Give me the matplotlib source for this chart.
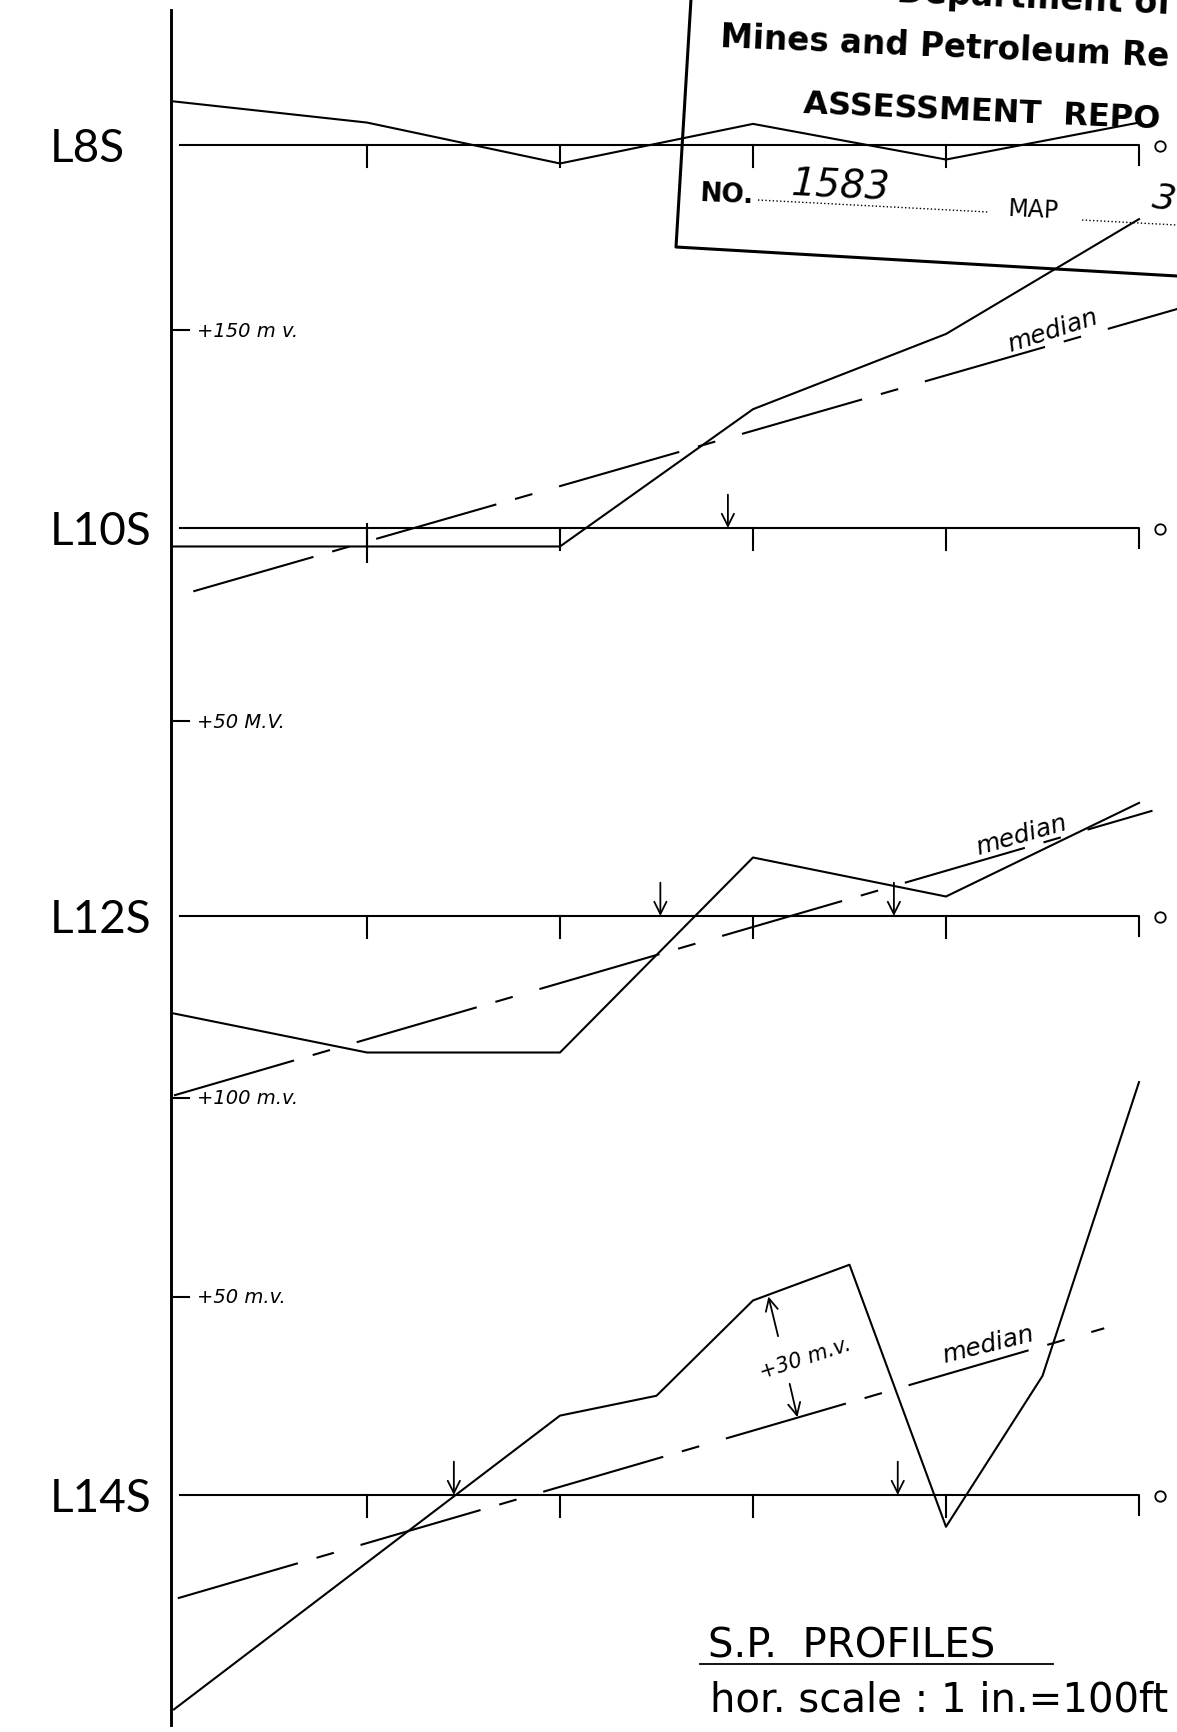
import matplotlib.pyplot as plt
from matplotlib.transforms import Affine2D

plt.rcParams['lines.scale_dashes'] = False
plt.rcParams['font.family'] = ['DejaVu Sans']

# ---- data (stations in 100 ft, S.P. in mV relative to line zero) ----
profiles = ['L8S', 'L10S', 'L12S', 'L14S']
stations = [0, 1, 2, 3, 4, 5]
stations_l14s = [0, 1, 2, 2.5, 3, 3.5, 4, 4.5, 5]
sp_l8s = [33, 17, -14, 16, -11, 17]
sp_l10s = [-14, -14, -14, 90, 147, 234]
sp_l12s = [-25, -35, -35, 15, 5, 29]
sp_l14s = [-54, -17, 20, 25, 49, 58, -8, 30, 104]

# median lines: (stations, mV)
median_l10s = ([0.1, 5.2], [-48, 166])
median_l12s = ([0.0, 5.07], [-46, 27])
median_l14s = ([0.02, 4.82], [-26, 42])

# arrows marking where the profile crosses the median / zero
arrows_l10s = [2.87]
arrows_l12s = [2.52, 3.73]
arrows_l14s = [1.45, 3.75]

# vertical scale marks (mV)
scale_l10s = [150]
scale_l12s = [50]
scale_l14s = [50, 100]
scale_text_l10s = ['+150 m v.']
scale_text_l12s = ['+50 M.V.']
scale_text_l14s = ['+50 m.v.', '+100 m.v.']

# ---- layout (pixels of the sheet) ----
W, H = 1177, 1733
X0, STEP = 174, 193
BASE = {'L8S': 146, 'L10S': 529, 'L12S': 917, 'L14S': 1496}
PX_PER_MV = {'L8S': 1.32, 'L10S': 1.32, 'L12S': 3.9, 'L14S': 3.97}
LW = 1.5
hand = dict(style='italic')
arrow_kw = dict(arrowstyle='->', lw=1.3, color='k', mutation_scale=22, shrinkA=0, shrinkB=0)

fig = plt.figure(figsize=(W / 100, H / 100), dpi=100)
ax = fig.add_axes([0, 0, 1, 1])
ax.set_autoscale_on(False)
ax.set_xlim(0, W)
ax.set_ylim(H, 0)
ax.axis('off')


def prof_tr(name):
    return Affine2D().scale(STEP, -PX_PER_MV[name]).translate(X0, BASE[name]) + ax.transData


def base_tr(name):
    return Affine2D().scale(STEP, 1).translate(X0, BASE[name]) + ax.transData


# main vertical line
ax.plot([X0 - 3, X0 - 3], [11, 1726], color='k', lw=2.1)

profile_x = {'L8S': stations, 'L10S': stations, 'L12S': stations, 'L14S': stations_l14s}
profile_y = {'L8S': sp_l8s, 'L10S': sp_l10s, 'L12S': sp_l12s, 'L14S': sp_l14s}
medians = {'L10S': median_l10s, 'L12S': median_l12s, 'L14S': median_l14s}
arrows = {'L10S': arrows_l10s, 'L12S': arrows_l12s, 'L14S': arrows_l14s}
scales = {'L10S': (scale_l10s, scale_text_l10s), 'L12S': (scale_l12s, scale_text_l12s),
          'L14S': (scale_l14s, scale_text_l14s)}

for name in profiles:
    bt = base_tr(name)
    pt = prof_tr(name)
    # zero line with station ticks
    ax.plot([0.03, 5, 5], [0, 0, 20], color='k', lw=LW, transform=bt)
    for s in stations[1:-1]:
        ax.plot([s, s], [0, 22], color='k', lw=LW, transform=bt)
    ax.plot([5.11], [1], 'o', mfc='white', mec='k', ms=7.5, mew=1.3, transform=bt)
    ax.text(50, BASE[name] + 3, name, fontsize=33, ha='left', va='center', family=['Lato'])

    ax.plot(profile_x[name], profile_y[name], color='k', lw=LW, transform=pt)

    if name in medians:
        ms, mv = medians[name]
        ax.plot(ms, mv, color='k', lw=LW, dashes=[90, 14, 13, 20], transform=pt)
    for s in arrows.get(name, []):
        ax.annotate('', xy=(s, 0), xycoords=pt, xytext=(0, 24), textcoords='offset points',
                    arrowprops=arrow_kw)
    if name in scales:
        for v, lab in zip(*scales[name]):
            ax.plot([0, 0.08], [v, v], color='k', lw=LW, transform=pt)
            ax.text(0.12, v, lab, transform=pt, fontsize=14, va='center', ha='left', **hand)

# extra tick through the flat part of L10S
ax.plot([1, 1], [-4, 34], color='k', lw=LW, transform=base_tr('L10S'))

# median labels
ax.text(4.55, 150, 'median', transform=prof_tr('L10S'), fontsize=18, rotation=18,
        ha='center', va='center', rotation_mode='anchor', **hand)
ax.text(4.39, 21, 'median', transform=prof_tr('L12S'), fontsize=18, rotation=16,
        ha='center', va='center', rotation_mode='anchor', **hand)
ax.text(4.22, 38, 'median', transform=prof_tr('L14S'), fontsize=18, rotation=14,
        ha='center', va='center', rotation_mode='anchor', **hand)

# +30 mV anomaly annotation on L14S
p14 = prof_tr('L14S')
ax.annotate('', xy=(3.08, 50), xycoords=p14, xytext=(3.13, 40), textcoords=p14, arrowprops=arrow_kw)
ax.annotate('', xy=(3.23, 19.6), xycoords=p14, xytext=(3.19, 28), textcoords=p14, arrowprops=arrow_kw)
ax.text(3.27, 34.5, '+30 m.v.', transform=p14, fontsize=15, rotation=18, ha='center',
        va='center', rotation_mode='anchor', **hand)

# titles
ax.text(708, 1658, 'S.P.  PROFILES', fontsize=29, ha='left', va='baseline')
ax.plot([700, 1053], [1665, 1665], color='k', lw=1.3)
ax.text(710, 1712, 'hor. scale : 1 in.=100ft', fontsize=29, ha='left', va='baseline')

# assessment report stamp
ax.plot([691, 676, 1177], [0, 248, 277], color='k', lw=2.2)
stamp = dict(fontweight='bold', rotation=-2.5, rotation_mode='anchor', ha='left', va='baseline')
ax.text(896, 2, 'Department of', fontsize=24, **stamp)
ax.text(720, 47, 'Mines and Petroleum Re', fontsize=23.5, **stamp)
ax.text(803, 113, 'ASSESSMENT  REPO', fontsize=23, **stamp)
ax.text(700, 201, 'NO.', fontsize=19, **stamp)
ax.text(790, 196, '1583', fontsize=28, rotation=-2.5, rotation_mode='anchor', ha='left',
        va='baseline', **hand)
ax.plot([758, 988], [201, 213], color='k', lw=1.0, ls=':')
ax.text(1008, 216, 'MAP', fontsize=17, rotation=-2.5, rotation_mode='anchor', ha='left',
        va='baseline')
ax.plot([1082, 1177], [221, 226], color='k', lw=1.0, ls=':')
ax.text(1150, 210, '3', fontsize=26, rotation=-10, ha='left', va='baseline', **hand)

fig.savefig('out.png', dpi=100)
